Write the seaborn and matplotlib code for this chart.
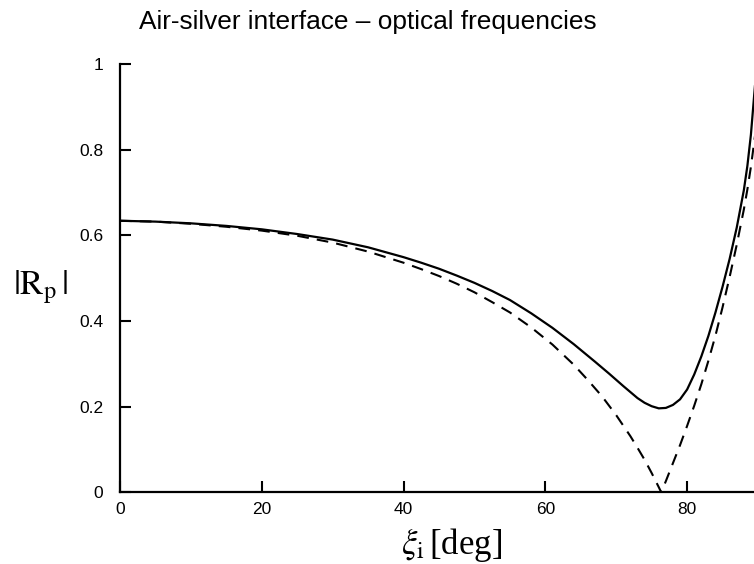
import numpy as np
import pandas as pd
import matplotlib
matplotlib.use("Agg")
import matplotlib.pyplot as plt
import seaborn as sns

# Incidence angle [deg] and |Rp| for the lossy (solid) and lossless (dashed) cases
angle_lossy = [0, 5, 10, 15, 20, 25, 30, 35, 40, 42.5, 45, 47.5, 50, 52.5,
               55, 58, 61, 64, 67, 69, 71, 72, 73, 74, 75, 76, 77, 78, 79,
               80, 81, 82, 83, 84, 85, 86, 87, 88, 88.5, 89, 89.6]
rp_lossy = [0.634, 0.632, 0.628, 0.622, 0.614, 0.603, 0.590, 0.572, 0.549,
            0.536, 0.522, 0.506, 0.489, 0.470, 0.449, 0.418, 0.384, 0.346,
            0.305, 0.277, 0.248, 0.234, 0.220, 0.209, 0.201, 0.196, 0.197,
            0.204, 0.217, 0.240, 0.275, 0.317, 0.365, 0.420, 0.480, 0.545,
            0.618, 0.705, 0.762, 0.835, 0.955]

angle_lossless = [0, 5, 10, 15, 20, 25, 30, 35, 40, 42.5, 45, 47.5, 50,
                  52.5, 55, 58, 61, 64, 66, 68, 70, 72, 73, 74, 75, 76,
                  76.35, 77, 78, 79, 80, 81, 82, 83, 84, 85, 86, 87, 88,
                  88.5, 89, 89.6]
rp_lossless = [0.634, 0.632, 0.627, 0.620, 0.611, 0.599, 0.583, 0.562, 0.536,
               0.521, 0.505, 0.487, 0.467, 0.444, 0.420, 0.385, 0.345, 0.298,
               0.262, 0.224, 0.180, 0.131, 0.104, 0.076, 0.045, 0.012, 0.0,
               0.026, 0.068, 0.110, 0.155, 0.202, 0.252, 0.307, 0.366, 0.432,
               0.503, 0.578, 0.660, 0.707, 0.760, 0.835]

x_ticks = [0, 20, 40, 60, 80]
x_tick_labels = ["0", "20", "40", "60", "80"]
y_ticks = [0, 0.2, 0.4, 0.6, 0.8, 1.0]
y_tick_labels = ["0", "0.2", "0.4", "0.6", "0.8", "1"]

title_text = "Air-silver interface \u2013 optical frequencies"

sns.set_style("ticks")
plt.rcParams["font.family"] = ["Liberation Sans", "DejaVu Sans"]
plt.rcParams["mathtext.fontset"] = "stix"
plt.rcParams["text.color"] = "black"

lossy = pd.DataFrame({"angle": angle_lossy, "rp": rp_lossy})
lossless = pd.DataFrame({"angle": angle_lossless, "rp": rp_lossless})

fig = plt.figure(figsize=(7.54, 5.64), dpi=100)
ax = fig.add_axes([120 / 754, 1 - 492.3 / 564, 638 / 754, (492.3 - 64) / 564])

sns.lineplot(data=lossy, x="angle", y="rp", ax=ax, color="black",
             linewidth=1.6, sort=False)
sns.lineplot(data=lossless, x="angle", y="rp", ax=ax, color="black",
             linewidth=1.5, sort=False)
ax.lines[-1].set_dashes([5.6, 3.9])

ax.set_xlim(0, 90)
ax.set_ylim(0, 1)
ax.set_xticks(x_ticks)
ax.set_xticklabels(x_tick_labels)
ax.set_yticks(y_ticks)
ax.set_yticklabels(y_tick_labels)
ax.tick_params(direction="in", length=8, width=1.5, labelsize=12.5,
               colors="black")
ax.tick_params(axis="y", pad=12)
ax.tick_params(axis="x", pad=7)

for side in ("top", "right"):
    ax.spines[side].set_visible(False)
for side in ("left", "bottom"):
    ax.spines[side].set_linewidth(1.6)
    ax.spines[side].set_color("black")

ax.set_xlabel("")
ax.set_ylabel("")

serif = ["Liberation Serif", "DejaVu Serif"]
fig.text(41 / 754, 1 - 287 / 564, r"$|\mathrm{R}_{\mathrm{p}}\,|$",
         fontsize=25, ha="center", va="center", family=serif, color="black")
fig.text(452 / 754, 1 - 545 / 564, r"$\xi_{\mathrm{i}}\,$[deg]",
         fontsize=25, ha="center", va="center", family=serif, color="black")
fig.text(368 / 754, 1 - 22 / 564, title_text, fontsize=18.9,
         ha="center", va="center", color="black")

fig.savefig("out.png", dpi=100)
